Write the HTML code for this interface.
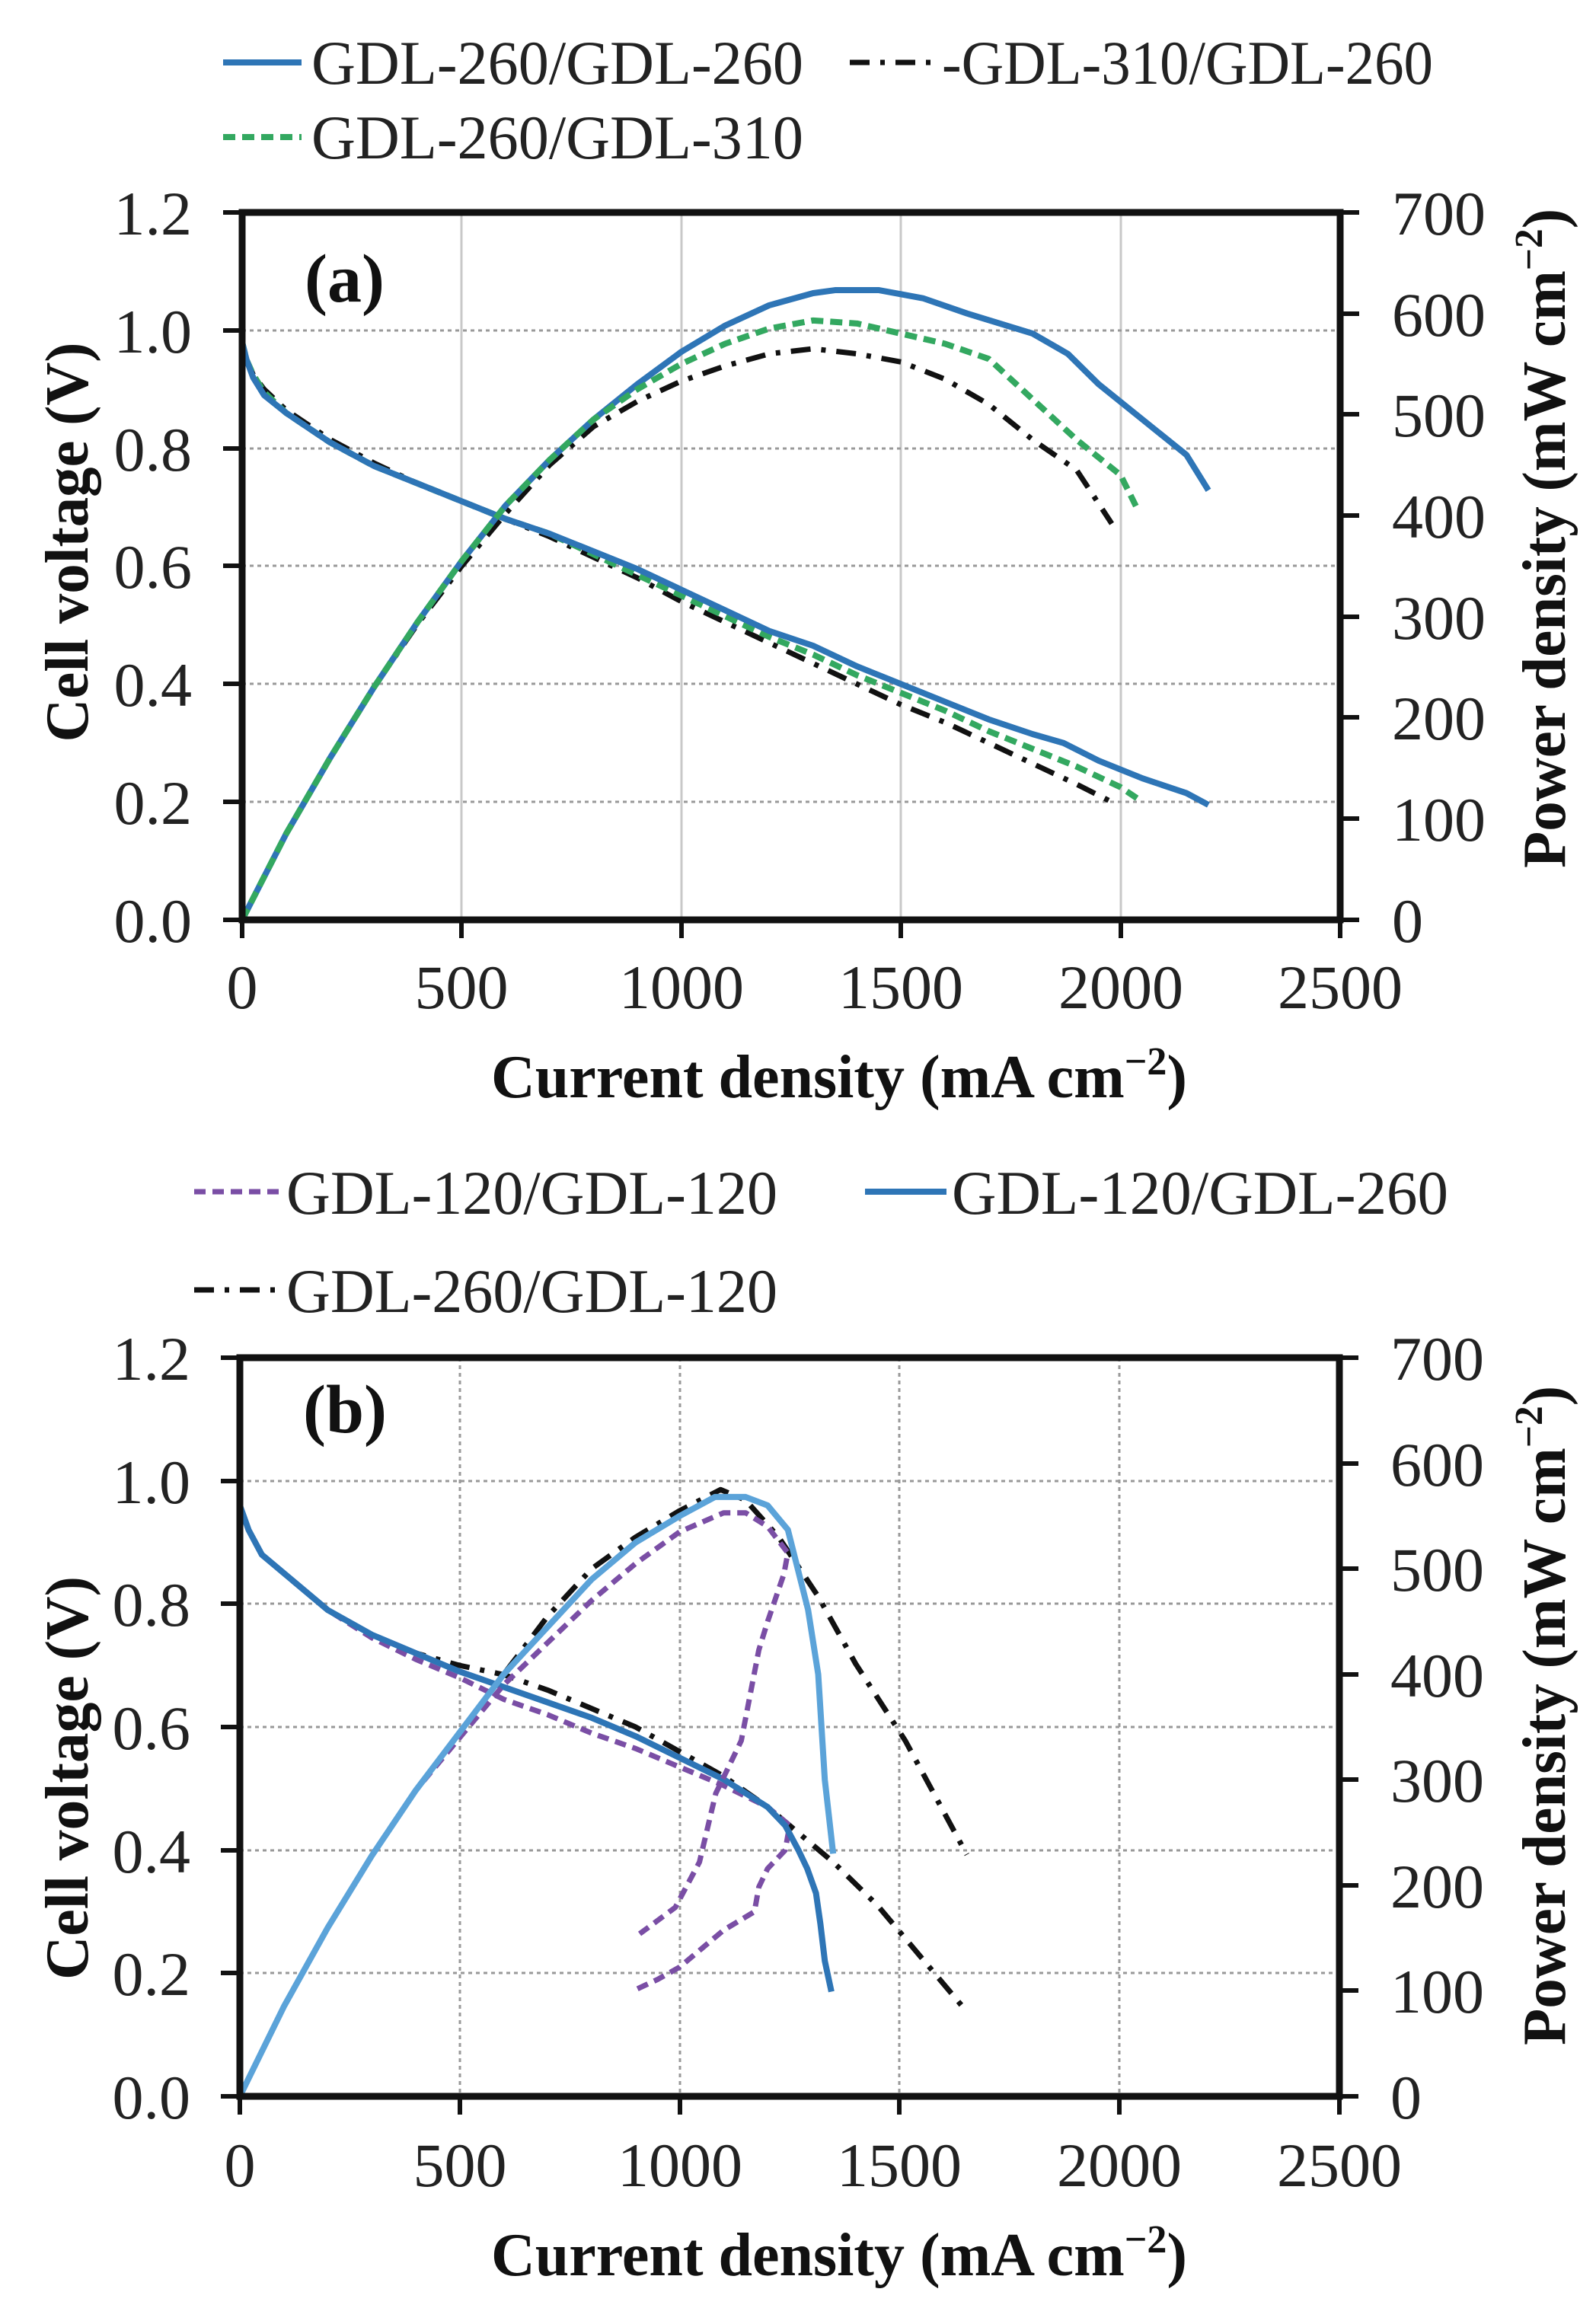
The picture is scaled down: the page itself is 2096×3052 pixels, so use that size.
<!DOCTYPE html>
<html><head><meta charset="utf-8"><style>html,body{margin:0;padding:0;background:#fff}svg{display:block}</style></head>
<body>
<svg width="2096" height="3052" viewBox="0 0 2096 3052" xmlns="http://www.w3.org/2000/svg" font-family="'Liberation Serif', serif">
<rect width="2096" height="3052" fill="#fff"/>

<!-- ================= PANEL A ================= -->
<g fill="#222" font-size="82">
  <line x1="293" y1="82" x2="396" y2="82" stroke="#2e75b6" stroke-width="8"/>
  <text x="409" y="110" textLength="646" lengthAdjust="spacingAndGlyphs">GDL-260/GDL-260</text>
  <line x1="1116" y1="82" x2="1230" y2="82" stroke="#111" stroke-width="7" stroke-dasharray="26 14 6 14"/>
  <text x="1237" y="110" textLength="645" lengthAdjust="spacingAndGlyphs">-GDL-310/GDL-260</text>
  <line x1="293" y1="180" x2="396" y2="180" stroke="#33a860" stroke-width="8" stroke-dasharray="16 9"/>
  <text x="409" y="208" textLength="646" lengthAdjust="spacingAndGlyphs">GDL-260/GDL-310</text>
</g>
<g stroke="#c8c8c8" stroke-width="3">
  <line x1="606" y1="279" x2="606" y2="1208"/><line x1="895" y1="279" x2="895" y2="1208"/>
  <line x1="1183" y1="279" x2="1183" y2="1208"/><line x1="1472" y1="279" x2="1472" y2="1208"/>
</g>
<g stroke="#999" stroke-width="3" stroke-dasharray="5 5">
  <line x1="318" y1="1053" x2="1760" y2="1053"/><line x1="318" y1="898" x2="1760" y2="898"/>
  <line x1="318" y1="743" x2="1760" y2="743"/><line x1="318" y1="589" x2="1760" y2="589"/>
  <line x1="318" y1="434" x2="1760" y2="434"/>
</g>
<g fill="none" stroke-linejoin="round" transform="matrix(0.5768,0,0,-774.2,318,1208)">
  <polyline vector-effect="non-scaling-stroke" stroke="#111" stroke-width="7" stroke-dasharray="26 14 6 14" points="0,0.98 10,0.95 25,0.925 50,0.90 100,0.865 200,0.815 300,0.775 400,0.74 500,0.71 600,0.68 700,0.65 800,0.615 900,0.58 1000,0.54 1100,0.505 1200,0.47 1300,0.435 1400,0.40 1500,0.365 1600,0.335 1700,0.30 1800,0.265 1900,0.23 1980,0.20"/>
  <polyline vector-effect="non-scaling-stroke" stroke="#33a860" stroke-width="8" stroke-dasharray="16 9" points="0,0.98 10,0.95 25,0.925 50,0.895 100,0.86 200,0.81 300,0.77 400,0.74 500,0.71 600,0.68 700,0.655 800,0.62 900,0.585 1000,0.55 1100,0.515 1200,0.48 1300,0.45 1400,0.415 1500,0.385 1600,0.355 1700,0.32 1800,0.29 1900,0.26 2000,0.225 2040,0.205"/>
  <polyline vector-effect="non-scaling-stroke" stroke="#2e75b6" stroke-width="8" points="0,0.98 10,0.95 25,0.92 50,0.89 100,0.86 200,0.81 300,0.77 400,0.74 500,0.71 600,0.68 700,0.655 800,0.625 900,0.595 1000,0.56 1100,0.525 1200,0.49 1300,0.465 1400,0.43 1500,0.40 1600,0.37 1700,0.34 1800,0.315 1870,0.30 1950,0.27 2050,0.24 2150,0.215 2200,0.195"/>
</g>
<g fill="none" stroke-linejoin="round" transform="matrix(0.5768,0,0,-1.3274,318,1208)">
  <polyline vector-effect="non-scaling-stroke" stroke="#111" stroke-width="7" stroke-dasharray="26 14 6 14" points="0,0 100,85 200,160 300,230 400,293 500,350 600,402 700,450 800,488 900,513 1000,533 1100,548 1200,560 1300,565 1400,560 1500,552 1600,535 1700,510 1800,475 1900,445 1980,392"/>
  <polyline vector-effect="non-scaling-stroke" stroke="#2e75b6" stroke-width="8" points="0,0 100,85 200,160 300,230 400,295 500,355 600,410 700,455 800,495 900,530 1000,562 1100,588 1200,608 1300,620 1350,623 1450,623 1550,615 1650,600 1800,580 1880,560 1950,530 2050,495 2150,460 2200,425"/>
  <polyline vector-effect="non-scaling-stroke" stroke="#33a860" stroke-width="8" stroke-dasharray="16 9" points="0,0 100,85 200,160 300,230 400,295 500,355 600,410 700,455 800,495 900,525 1000,550 1100,570 1200,585 1300,593 1400,590 1500,580 1600,570 1700,555 1800,515 1900,475 2000,440 2040,405"/>
</g>
<g stroke="#111" stroke-width="9" fill="none">
  <rect x="318" y="279" width="1442" height="929"/>
</g>
<g stroke="#111" stroke-width="6">
  <line x1="293" y1="279" x2="318" y2="279"/><line x1="293" y1="434" x2="318" y2="434"/><line x1="293" y1="589" x2="318" y2="589"/><line x1="293" y1="743" x2="318" y2="743"/><line x1="293" y1="898" x2="318" y2="898"/><line x1="293" y1="1053" x2="318" y2="1053"/><line x1="293" y1="1208" x2="318" y2="1208"/>
  <line x1="1760" y1="279" x2="1785" y2="279"/><line x1="1760" y1="412" x2="1785" y2="412"/><line x1="1760" y1="544" x2="1785" y2="544"/><line x1="1760" y1="677" x2="1785" y2="677"/><line x1="1760" y1="810" x2="1785" y2="810"/><line x1="1760" y1="942" x2="1785" y2="942"/><line x1="1760" y1="1075" x2="1785" y2="1075"/><line x1="1760" y1="1208" x2="1785" y2="1208"/>
  <line x1="318" y1="1208" x2="318" y2="1232"/><line x1="606" y1="1208" x2="606" y2="1232"/><line x1="895" y1="1208" x2="895" y2="1232"/><line x1="1183" y1="1208" x2="1183" y2="1232"/><line x1="1472" y1="1208" x2="1472" y2="1232"/><line x1="1760" y1="1208" x2="1760" y2="1232"/>
</g>
<g fill="#222" font-size="82">
  <g text-anchor="end">
    <text x="252" y="308">1.2</text><text x="252" y="463">1.0</text><text x="252" y="618">0.8</text><text x="252" y="772">0.6</text><text x="252" y="927">0.4</text><text x="252" y="1082">0.2</text><text x="252" y="1237">0.0</text>
  </g>
  <g text-anchor="start">
    <text x="1828" y="308">700</text><text x="1828" y="441">600</text><text x="1828" y="573">500</text><text x="1828" y="706">400</text><text x="1828" y="839">300</text><text x="1828" y="971">200</text><text x="1828" y="1104">100</text><text x="1828" y="1237">0</text>
  </g>
  <g text-anchor="middle">
    <text x="318" y="1324">0</text><text x="606" y="1324">500</text><text x="895" y="1324">1000</text><text x="1183" y="1324">1500</text><text x="1472" y="1324">2000</text><text x="1760" y="1324">2500</text>
  </g>
</g>
<g fill="#111" font-weight="bold" font-size="80">
  <text x="400" y="396" font-size="90">(a)</text>
  <text x="645" y="1441" textLength="914" lengthAdjust="spacingAndGlyphs">Current density (mA cm<tspan font-size="52" dy="-30">−2</tspan><tspan dy="30">)</tspan></text>
  <text transform="translate(115,712) rotate(-90)" text-anchor="middle" textLength="525" lengthAdjust="spacingAndGlyphs">Cell voltage (V)</text>
  <text transform="translate(2055,707) rotate(-90)" text-anchor="middle" textLength="866" lengthAdjust="spacingAndGlyphs">Power density (mW cm<tspan font-size="52" dy="-30">−2</tspan><tspan dy="30">)</tspan></text>
</g>

<!-- ================= PANEL B ================= -->
<g fill="#222" font-size="82">
  <line x1="255" y1="1565" x2="370" y2="1565" stroke="#7a4ea5" stroke-width="7" stroke-dasharray="15 9"/>
  <text x="376" y="1594" textLength="645" lengthAdjust="spacingAndGlyphs">GDL-120/GDL-120</text>
  <line x1="1136" y1="1565" x2="1243" y2="1565" stroke="#2e75b6" stroke-width="8"/>
  <text x="1250" y="1594" textLength="652" lengthAdjust="spacingAndGlyphs">GDL-120/GDL-260</text>
  <line x1="255" y1="1694" x2="370" y2="1694" stroke="#111" stroke-width="7" stroke-dasharray="26 14 6 14"/>
  <text x="376" y="1723" textLength="645" lengthAdjust="spacingAndGlyphs">GDL-260/GDL-120</text>
</g>
<g stroke="#999" stroke-width="3" stroke-dasharray="5 5">
  <line x1="604" y1="1783" x2="604" y2="2753"/><line x1="893" y1="1783" x2="893" y2="2753"/>
  <line x1="1181" y1="1783" x2="1181" y2="2753"/><line x1="1470" y1="1783" x2="1470" y2="2753"/>
  <line x1="315" y1="2591" x2="1759" y2="2591"/><line x1="315" y1="2430" x2="1759" y2="2430"/>
  <line x1="315" y1="2268" x2="1759" y2="2268"/><line x1="315" y1="2106" x2="1759" y2="2106"/>
  <line x1="315" y1="1945" x2="1759" y2="1945"/>
</g>
<g fill="none" stroke-linejoin="round" transform="matrix(0.5776,0,0,-808.3,315,2753)">
  <polyline vector-effect="non-scaling-stroke" stroke="#111" stroke-width="7" stroke-dasharray="26 14 6 14" points="0,0.96 20,0.92 50,0.88 100,0.85 200,0.79 300,0.75 400,0.72 500,0.70 600,0.685 700,0.66 800,0.63 900,0.60 1000,0.56 1100,0.52 1200,0.47 1250,0.44 1350,0.38 1450,0.31 1550,0.225 1650,0.14"/>
  <polyline vector-effect="non-scaling-stroke" stroke="#7a4ea5" stroke-width="7" stroke-dasharray="15 9" points="0,0.96 20,0.92 50,0.88 100,0.85 200,0.79 300,0.745 400,0.71 500,0.68 600,0.645 700,0.62 800,0.59 900,0.565 1000,0.535 1100,0.505 1200,0.47 1250,0.44 1240,0.40 1200,0.37 1180,0.34 1170,0.30 1100,0.27 1050,0.24 1000,0.21 950,0.19 890,0.17"/>
  <polyline vector-effect="non-scaling-stroke" stroke="#2e75b6" stroke-width="8" points="0,0.96 20,0.92 50,0.88 100,0.85 200,0.79 300,0.75 400,0.72 500,0.69 600,0.665 700,0.64 800,0.615 900,0.585 1000,0.55 1100,0.515 1200,0.47 1240,0.44 1270,0.40 1290,0.37 1310,0.33 1320,0.28 1330,0.22 1345,0.17"/>
</g>
<g fill="none" stroke-linejoin="round" transform="matrix(0.5776,0,0,-1.3857,315,2753)">
  <polyline vector-effect="non-scaling-stroke" stroke="#111" stroke-width="7" stroke-dasharray="26 14 6 14" points="0,0 100,85 200,160 300,228 400,290 500,345 600,400 700,455 800,500 900,530 1000,555 1093,575 1150,565 1225,530 1316,473 1400,410 1513,337 1653,229"/>
  <polyline vector-effect="non-scaling-stroke" stroke="#7a4ea5" stroke-width="7" stroke-dasharray="15 9" points="0,0 100,85 200,160 300,228 400,290 500,340 600,390 700,430 800,470 900,505 1000,535 1100,553 1150,553 1200,540 1246,515 1237,495 1200,450 1180,423 1140,337 1082,287 1045,222 990,179 909,154"/>
  <polyline vector-effect="non-scaling-stroke" stroke="#5ba3d9" stroke-width="8" points="0,0 100,85 200,160 300,228 400,290 500,345 600,400 700,445 800,490 900,525 1000,550 1080,568 1150,568 1200,560 1246,537 1292,461 1315,400 1330,300 1349,230"/>
</g>
<g stroke="#111" stroke-width="9" fill="none">
  <rect x="315" y="1783" width="1444" height="970"/>
</g>
<g stroke="#111" stroke-width="6">
  <line x1="290" y1="1783" x2="315" y2="1783"/><line x1="290" y1="1945" x2="315" y2="1945"/><line x1="290" y1="2106" x2="315" y2="2106"/><line x1="290" y1="2268" x2="315" y2="2268"/><line x1="290" y1="2430" x2="315" y2="2430"/><line x1="290" y1="2591" x2="315" y2="2591"/><line x1="290" y1="2753" x2="315" y2="2753"/>
  <line x1="1759" y1="1783" x2="1784" y2="1783"/><line x1="1759" y1="1922" x2="1784" y2="1922"/><line x1="1759" y1="2060" x2="1784" y2="2060"/><line x1="1759" y1="2199" x2="1784" y2="2199"/><line x1="1759" y1="2337" x2="1784" y2="2337"/><line x1="1759" y1="2476" x2="1784" y2="2476"/><line x1="1759" y1="2614" x2="1784" y2="2614"/><line x1="1759" y1="2753" x2="1784" y2="2753"/>
  <line x1="315" y1="2753" x2="315" y2="2777"/><line x1="604" y1="2753" x2="604" y2="2777"/><line x1="893" y1="2753" x2="893" y2="2777"/><line x1="1181" y1="2753" x2="1181" y2="2777"/><line x1="1470" y1="2753" x2="1470" y2="2777"/><line x1="1759" y1="2753" x2="1759" y2="2777"/>
</g>
<g fill="#222" font-size="82">
  <g text-anchor="end">
    <text x="250" y="1812">1.2</text><text x="250" y="1974">1.0</text><text x="250" y="2135">0.8</text><text x="250" y="2297">0.6</text><text x="250" y="2459">0.4</text><text x="250" y="2620">0.2</text><text x="250" y="2782">0.0</text>
  </g>
  <g text-anchor="start">
    <text x="1826" y="1812">700</text><text x="1826" y="1951">600</text><text x="1826" y="2089">500</text><text x="1826" y="2228">400</text><text x="1826" y="2366">300</text><text x="1826" y="2505">200</text><text x="1826" y="2643">100</text><text x="1826" y="2782">0</text>
  </g>
  <g text-anchor="middle">
    <text x="315" y="2871">0</text><text x="604" y="2871">500</text><text x="893" y="2871">1000</text><text x="1181" y="2871">1500</text><text x="1470" y="2871">2000</text><text x="1759" y="2871">2500</text>
  </g>
</g>
<g fill="#111" font-weight="bold" font-size="80">
  <text x="398" y="1881" font-size="90">(b)</text>
  <text x="645" y="2988" textLength="914" lengthAdjust="spacingAndGlyphs">Current density (mA cm<tspan font-size="52" dy="-30">−2</tspan><tspan dy="30">)</tspan></text>
  <text transform="translate(115,2335) rotate(-90)" text-anchor="middle" textLength="530" lengthAdjust="spacingAndGlyphs">Cell voltage (V)</text>
  <text transform="translate(2055,2253) rotate(-90)" text-anchor="middle" textLength="866" lengthAdjust="spacingAndGlyphs">Power density (mW cm<tspan font-size="52" dy="-30">−2</tspan><tspan dy="30">)</tspan></text>
</g>
</svg>
</body></html>
